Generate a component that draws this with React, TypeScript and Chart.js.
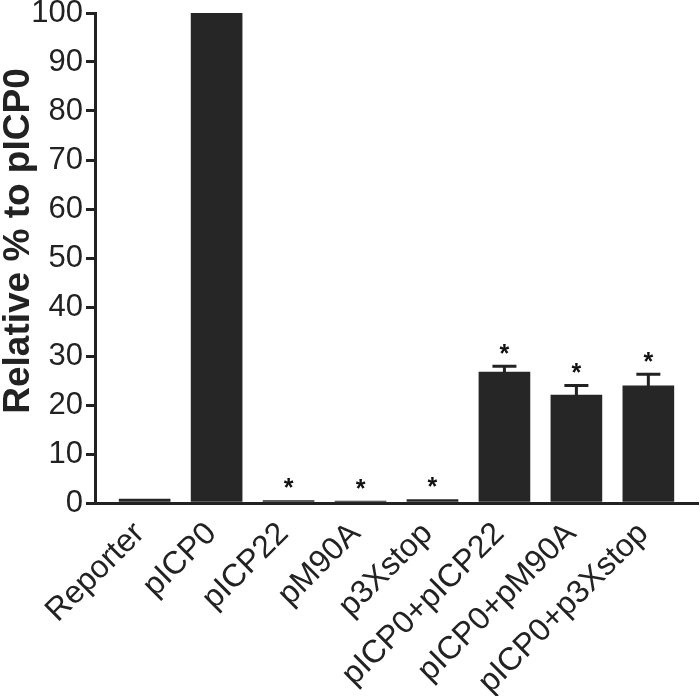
import React, { useEffect, useRef } from "react";
import { Chart, registerables } from "chart.js";

Chart.register(...registerables);

const categories = [
  "Reporter",
  "pICP0",
  "pICP22",
  "pM90A",
  "p3Xstop",
  "pICP0+pICP22",
  "pICP0+pM90A",
  "pICP0+p3Xstop",
];
const values = [0.8, 100, 0.5, 0.4, 0.7, 26.7, 22.0, 23.9];
const errors = [0.1, 0, 0.05, 0.05, 0.15, 1.2, 2.0, 2.4];
const significant = [false, false, true, true, true, true, true, true];
const yTicks = [0, 10, 20, 30, 40, 50, 60, 70, 80, 90, 100];
const yTitle = "Relative % to pICP0";

const INK = "#222222";
const BAR = "#262626";
const FONT = "'Liberation Sans', Arial, Helvetica, sans-serif";

const errorPlugin = {
  id: "errorBarsAndStars",
  afterDatasetsDraw(chart: any) {
    const ctx = chart.ctx;
    const meta = chart.getDatasetMeta(0);
    const yScale = chart.scales.y;
    ctx.save();
    meta.data.forEach((bar: any, i: number) => {
      const x = bar.x;
      const top = yScale.getPixelForValue(values[i]);
      const errTop = yScale.getPixelForValue(values[i] + errors[i]);
      if (errors[i] > 0.3) {
        ctx.strokeStyle = INK;
        ctx.lineWidth = 3;
        ctx.beginPath();
        ctx.moveTo(x, top);
        ctx.lineTo(x, errTop);
        ctx.moveTo(x - 12, errTop);
        ctx.lineTo(x + 12, errTop);
        ctx.stroke();
      }
      if (significant[i]) {
        ctx.fillStyle = "#111";
        ctx.font = `bold 25px ${FONT}`;
        ctx.textAlign = "center";
        ctx.textBaseline = "alphabetic";
        ctx.fillText("*", x, errTop - 4);
      }
    });
    ctx.restore();
  },
  afterDraw(chart: any) {
    const ctx = chart.ctx;
    const yScale = chart.scales.y;
    const cy = (yScale.top + yScale.bottom) / 2 - 17;
    ctx.save();
    ctx.translate(19, cy);
    ctx.rotate(-Math.PI / 2);
    ctx.fillStyle = INK;
    ctx.font = `bold 37px ${FONT}`;
    ctx.textAlign = "center";
    ctx.textBaseline = "middle";
    ctx.fillText(yTitle, 0, 0);
    ctx.restore();
  },
};

export default function App() {
  const ref = useRef<HTMLCanvasElement | null>(null);
  useEffect(() => {
    if (!ref.current) return;
    const chart = new Chart(ref.current, {
      type: "bar",
      data: {
        datasets: [
          {
            data: values.map((v, i) => ({ x: i, y: v })),
            backgroundColor: BAR,
            borderWidth: 0,
            barThickness: 51,
          },
        ],
      },
      options: {
        animation: false,
        responsive: true,
        maintainAspectRatio: false,
        layout: { padding: 0 },
        plugins: { legend: { display: false }, tooltip: { enabled: false } },
        scales: {
          x: {
            type: "linear",
            offset: false,
            min: -0.69,
            max: 7.69,
            afterBuildTicks: (s: any) => {
              s.ticks = categories.map((_, i) => ({ value: i }));
            },
            grid: { display: false },
            border: { display: true, color: INK, width: 3 },
            ticks: {
              autoSkip: false,
              maxRotation: 45,
              minRotation: 45,
              padding: 4,
              labelOffset: -5,
              color: INK,
              font: { family: FONT, size: 32 },
              callback: (v: any) =>
                Number.isInteger(v) && v >= 0 && v < categories.length ? categories[v] : "",
            },
            afterFit: (s: any) => {
              s.height = 193;
              s.paddingLeft = 0;
              s.paddingRight = 2;
            },
          },
          y: {
            min: 0,
            max: 100,
            afterBuildTicks: (s: any) => {
              s.ticks = yTicks.map((v) => ({ value: v }));
            },
            grid: {
              drawOnChartArea: false,
              drawTicks: true,
              tickLength: 9,
              lineWidth: 3,
              color: INK,
            },
            border: { display: true, color: INK, width: 3 },
            ticks: {
              padding: 3,
              color: INK,
              font: { family: FONT, size: 31 },
            },
            title: { display: false },
            afterFit: (s: any) => {
              s.width = 95;
              s.paddingTop = 13;
              s.paddingBottom = 0;
            },
          },
        },
      },
      plugins: [errorPlugin],
    });
    return () => chart.destroy();
  }, []);
  return (
    <div style={{ position: "fixed", left: 0, top: 0, width: 700, height: 696, background: "#fff" }}>
      <canvas ref={ref} />
    </div>
  );
}
